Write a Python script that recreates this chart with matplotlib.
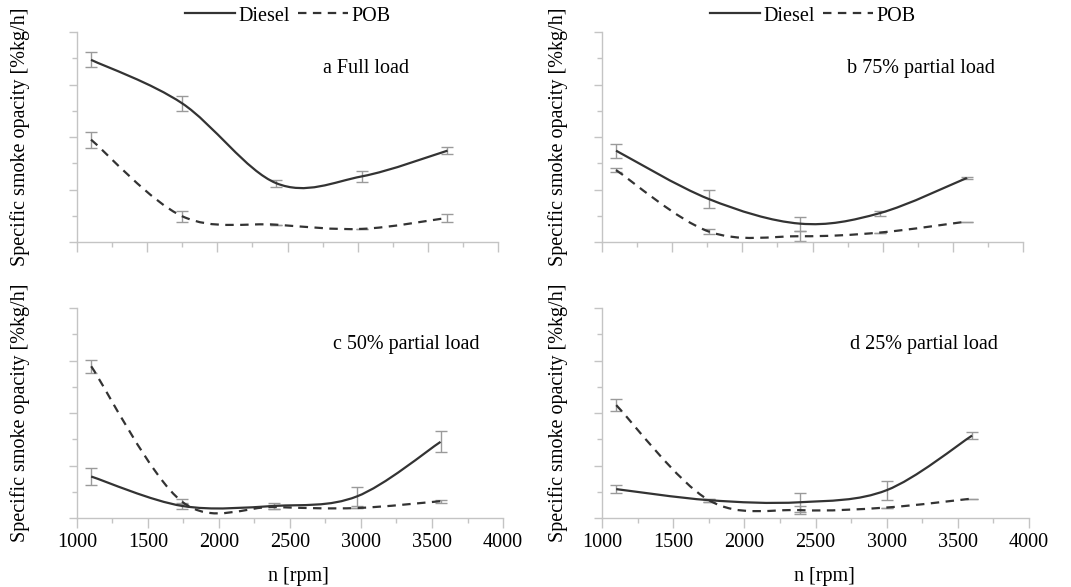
import numpy as np
import matplotlib
matplotlib.use('Agg')
import matplotlib.pyplot as plt
from matplotlib.path import Path
from matplotlib.patches import PathPatch
from matplotlib.lines import Line2D
from matplotlib.ticker import MultipleLocator

plt.rcParams['font.family'] = ['Liberation Serif', 'DejaVu Serif']
plt.rcParams['font.size'] = 14.5

# ---- data ----
titles = ['a Full load', 'b 75% partial load', 'c 50% partial load', 'd 25% partial load']

rpm_a = [1100, 1750, 2420, 3030, 3640]
rpm_b = [1100, 1760, 2410, 2980, 3600]
rpm_c = [1100, 1740, 2390, 2970, 3560]
rpm_d = [1100, 1750, 2390, 3000, 3600]

diesel_a = [3.47, 2.64, 1.12, 1.25, 1.74]
diesel_a_err = [0.14, 0.15, 0.065, 0.1, 0.065]
pob_a = [1.95, 0.49, 0.33, 0.25, 0.46]
pob_a_err = [0.15, 0.1, 0.0, 0.0, 0.08]

diesel_b = [1.74, 0.82, 0.35, 0.55, 1.22]
diesel_b_err = [0.135, 0.165, 0.135, 0.05, 0.015]
pob_b = [1.37, 0.2, 0.11, 0.18, 0.39]
pob_b_err = [0.04, 0.04, 0.1, 0.0, 0.0]

diesel_c = [0.79, 0.23, 0.23, 0.41, 1.45]
diesel_c_err = [0.165, 0.05, 0.05, 0.19, 0.2]
pob_c = [2.89, 0.31, 0.21, 0.19, 0.32]
pob_c_err = [0.12, 0.05, 0.03, 0.0, 0.03]

diesel_d = [0.55, 0.34, 0.30, 0.53, 1.57]
diesel_d_err = [0.08, 0.03, 0.18, 0.18, 0.07]
pob_d = [2.15, 0.34, 0.15, 0.2, 0.37]
pob_d_err = [0.12, 0.03, 0.08, 0.0, 0.0]

panels = [
    (rpm_a, diesel_a, diesel_a_err, pob_a, pob_a_err),
    (rpm_b, diesel_b, diesel_b_err, pob_b, pob_b_err),
    (rpm_c, diesel_c, diesel_c_err, pob_c, pob_c_err),
    (rpm_d, diesel_d, diesel_d_err, pob_d, pob_d_err),
]

LINE = '#333333'
GRID = '#c4c4c4'
ERR = '#9a9a9a'
DASH = (0, (3.8, 2.9))


def smooth_path(x, y):
    # Excel-like smoothed line: cubic Bezier segments, Catmull-Rom control points
    p = np.column_stack([x, y]).astype(float)
    n = len(p)
    verts = [p[0]]
    codes = [Path.MOVETO]
    for i in range(n - 1):
        p0 = p[i - 1] if i > 0 else p[i]
        p3 = p[i + 2] if i + 2 < n else p[i + 1]
        c1 = p[i] + (p[i + 1] - p0) / 6.0
        c2 = p[i + 1] - (p3 - p[i]) / 6.0
        verts += [c1, c2, p[i + 1]]
        codes += [Path.CURVE4] * 3
    return Path(verts, codes)


fig = plt.figure(figsize=(10.71, 5.87), dpi=100)
W, H = 1071.0, 587.0
# axes boxes in pixels: left, top, right, bottom
boxes = [(77, 32, 498, 242), (602, 32, 1023, 242),
         (77, 308, 503, 518), (602, 308, 1029, 518)]
text_pos = [(0.584, 0.824), (0.582, 0.824), (0.601, 0.824), (0.581, 0.824)]
ylab_x = [-0.112, -0.081, -0.111, -0.080]

for k, (l, t, r, b) in enumerate(boxes):
    ax = fig.add_axes([l / W, 1 - b / H, (r - l) / W, (b - t) / H])
    rpm, dsl, dsl_e, pob, pob_e = panels[k]

    ax.errorbar(rpm, dsl, yerr=dsl_e, fmt='none', ecolor=ERR, elinewidth=1.0,
                capsize=4, capthick=1.0, zorder=2)
    ax.errorbar(rpm, pob, yerr=pob_e, fmt='none', ecolor=ERR, elinewidth=1.0,
                capsize=4, capthick=1.0, zorder=2)
    ax.add_patch(PathPatch(smooth_path(rpm, dsl), fill=False, edgecolor=LINE,
                           lw=1.6, zorder=3))
    ax.add_patch(PathPatch(smooth_path(rpm, pob), fill=False, edgecolor=LINE,
                           lw=1.6, linestyle=DASH, zorder=3))

    ax.set_xlim(1000, 4000)
    ax.set_ylim(0, 4)
    ax.xaxis.set_major_locator(MultipleLocator(500))
    ax.xaxis.set_minor_locator(MultipleLocator(250))
    ax.yaxis.set_major_locator(MultipleLocator(1))
    ax.yaxis.set_minor_locator(MultipleLocator(0.5))
    ax.set_yticklabels([])
    for s in ['top', 'right']:
        ax.spines[s].set_visible(False)
    for s in ['left', 'bottom']:
        ax.spines[s].set_color(GRID)
        ax.spines[s].set_linewidth(1.0)
    ax.tick_params(which='major', length=7.5, color=GRID, width=1.0, pad=3.5)
    ax.tick_params(which='minor', length=3.8, color=GRID, width=1.0)
    ax.tick_params(axis='y', which='major', length=6)

    ax.set_ylabel('Specific smoke opacity [%kg/h]')
    ax.yaxis.set_label_coords(ylab_x[k], 0.5)
    ax.text(text_pos[k][0], text_pos[k][1], titles[k], transform=ax.transAxes,
            ha='left', va='center')

    if k < 2:
        ax.set_xticklabels([])
        handles = [Line2D([], [], color=LINE, lw=1.6),
                   Line2D([], [], color=LINE, lw=1.6, linestyle=DASH)]
        ax.legend(handles, ['Diesel', 'POB'], loc='center', ncol=2,
                  bbox_to_anchor=(0.5, 1 + 16 / 210.0), frameon=False,
                  handlelength=2.5, handletextpad=0.15, columnspacing=0.4,
                  borderpad=0, borderaxespad=0)
    else:
        ax.set_xlabel('n [rpm]')
        ax.xaxis.set_label_coords(0.52, -0.233)

fig.savefig('out.png', dpi=100)
